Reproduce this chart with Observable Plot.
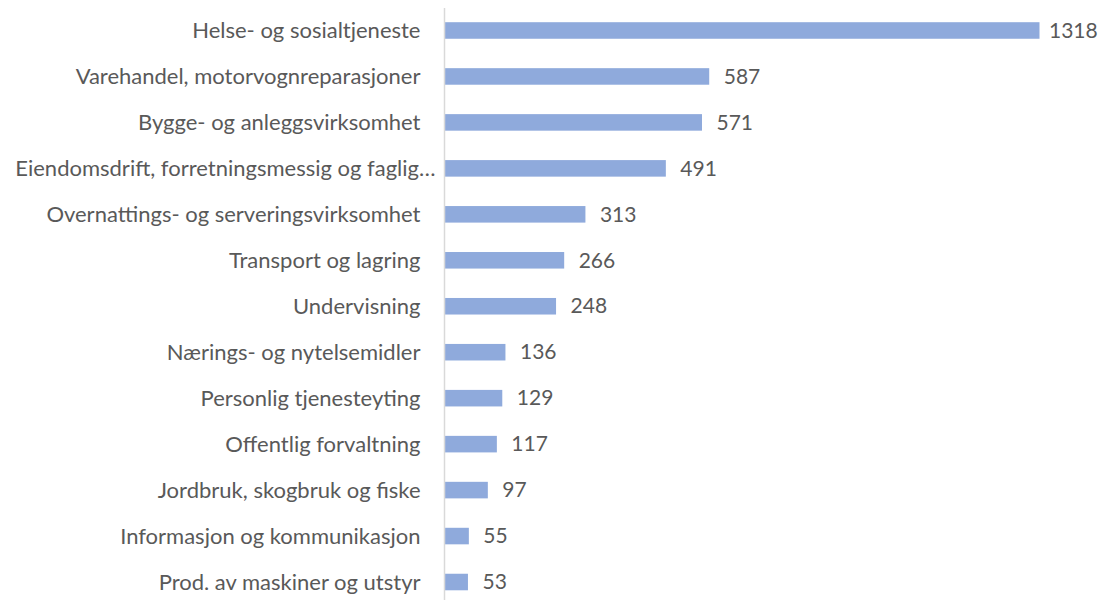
<!DOCTYPE html>
<html>
<head>
<meta charset="utf-8">
<script src="https://cdn.jsdelivr.net/npm/d3@7"></script>
<script src="https://cdn.jsdelivr.net/npm/@observablehq/plot@0.6"></script>
<style>
  html, body { margin: 0; padding: 0; background: #ffffff; }
  #chart { width: 1102px; height: 600px; }
</style>
</head>
<body>
<div id="chart"></div>
<script>
const categories = [
  "Helse- og sosialtjeneste",
  "Varehandel, motorvognreparasjoner",
  "Bygge- og anleggsvirksomhet",
  "Eiendomsdrift, forretningsmessig og faglig…",
  "Overnattings- og serveringsvirksomhet",
  "Transport og lagring",
  "Undervisning",
  "Nærings- og nytelsemidler",
  "Personlig tjenesteyting",
  "Offentlig forvaltning",
  "Jordbruk, skogbruk og fiske",
  "Informasjon og kommunikasjon",
  "Prod. av maskiner og utstyr"
];
const values = [1318, 587, 571, 491, 313, 266, 248, 136, 129, 117, 97, 55, 53];

const data = categories.map((c, i) => ({category: c, value: values[i]}));
const maxValue = d3.max(values);
const longLabel = categories.find(c => c.endsWith("…"));

const chart = Plot.plot({
  width: 1102,
  height: 600,
  marginLeft: 444,
  marginRight: 62,
  marginTop: 8,
  marginBottom: 0,
  style: {fontFamily: "Lato, sans-serif", fontSize: "22px", color: "#595959", background: "#ffffff"},
  x: {domain: [0, maxValue], range: [444, 1039.5], axis: null},
  y: {domain: categories, range: [7.5, 605], paddingInner: 0.64, paddingOuter: 0.32, round: false, label: null},
  marks: [
    Plot.barX(data, {y: "category", x: "value", fill: "#8FAADC"}),
    Plot.ruleX([0], {stroke: "#D9D9D9", strokeWidth: 1.5}),
    Plot.text(data.filter(d => d.value !== maxValue), {y: "category", x: "value", text: d => String(d.value), textAnchor: "start", dx: 14, fill: "#595959", fontSize: 21}),
    Plot.text(data.filter(d => d.value === maxValue), {y: "category", x: "value", text: d => String(d.value), textAnchor: "start", dx: 9, fill: "#595959", fontSize: 21}),
    Plot.axisY(categories.filter(c => c !== longLabel), {tickSize: 0, tickPadding: 24, fontSize: 22, fill: "#595959", label: null}),
    Plot.axisY([longLabel], {tickSize: 0, tickPadding: 9, fontSize: 22, fill: "#595959", label: null})
  ]
});
document.getElementById("chart").appendChild(chart);
</script>
</body>
</html>
